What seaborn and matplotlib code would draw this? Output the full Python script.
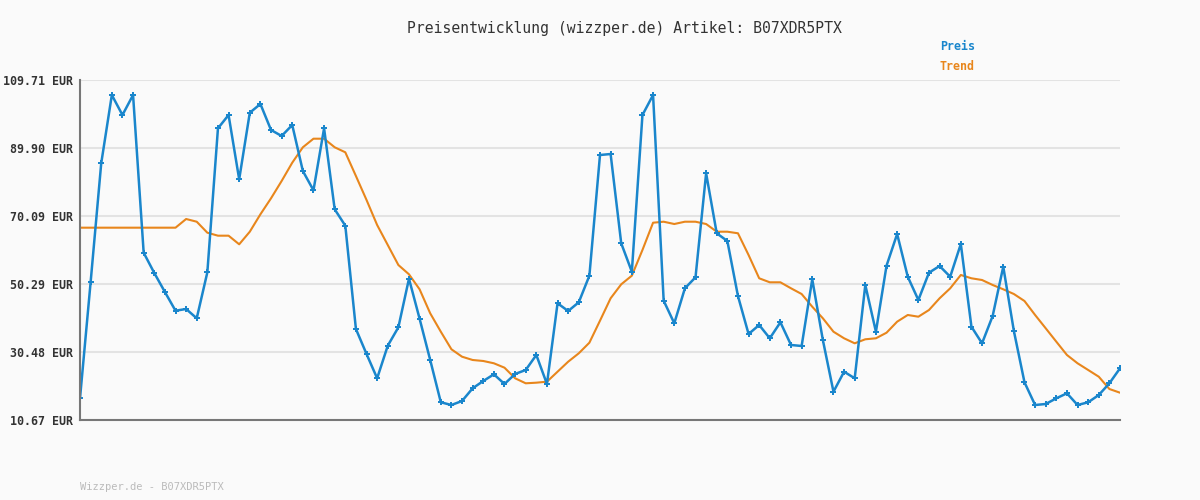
import matplotlib
matplotlib.use("Agg")
import matplotlib.pyplot as plt
import seaborn as sns
import pandas as pd

price = [16.99, 50.78, 85.45, 105.34, 99.51, 105.34, 59.40, 53.49, 47.96, 42.51,
         43.00, 40.30, 53.69, 95.64, 99.51, 80.78, 100.18, 102.72, 95.15, 93.40,
         96.60, 83.20, 77.58, 95.64, 72.05, 67.27, 37.18, 29.90, 22.82, 32.31,
         37.67, 51.83, 40.18, 28.15, 15.83, 15.04, 16.21, 19.91, 22.03, 23.98,
         21.16, 24.07, 25.24, 29.61, 21.16, 44.67, 42.42, 44.96, 52.71, 87.86,
         88.15, 62.14, 53.87, 99.51, 105.34, 45.42, 38.84, 49.03, 52.24, 82.53,
         65.06, 62.81, 46.79, 35.72, 38.34, 34.47, 39.13, 32.52, 32.23, 51.66,
         33.97, 18.91, 24.74, 22.82, 50.00, 36.39, 55.62, 64.85, 52.41, 45.63,
         53.58, 55.53, 52.41, 61.94, 37.85, 33.01, 40.97, 55.33, 36.60, 21.65,
         15.04, 15.33, 16.99, 18.45, 15.04, 15.83, 17.95, 21.36, 25.73]
trend = [66.69] * 10 + [
         69.22, 68.43, 65.23, 64.36, 64.36, 61.85, 65.52, 70.59, 75.25, 80.29,
         85.62, 90.11, 92.61, 92.61, 90.11, 88.65, 81.75, 74.76, 67.47, 61.65,
         55.82, 53.11, 48.74, 41.75, 36.39, 31.27, 29.11, 28.15, 27.86, 27.19,
         25.91, 22.82, 21.36, 21.54, 21.83, 24.74, 27.65, 30.10, 33.19, 39.60,
         46.12, 50.20, 52.71, 60.19, 68.14, 68.43, 67.76, 68.43, 68.43, 67.76,
         65.52, 65.52, 65.06, 58.73, 51.95, 50.78, 50.78, 49.03, 47.37, 43.67,
         40.30, 36.39, 34.47, 33.01, 34.18, 34.47, 36.10, 39.31, 41.26, 40.76,
         42.71, 46.12, 49.03, 52.91, 51.95, 51.45, 50.00, 48.74, 47.37, 45.33,
         41.26, 37.38, 33.48, 29.61, 27.19, 25.24, 23.28, 19.70, 18.62]
yticks = [10.67, 30.48, 50.29, 70.09, 89.90, 109.71]
title = "Preisentwicklung (wizzper.de) Artikel: B07XDR5PTX"
footer = "Wizzper.de - B07XDR5PTX"

df = pd.DataFrame({"i": range(len(price)), "price": price, "trend": trend})

sns.set_style("white")
plt.rcParams['font.family'] = ['DejaVu Sans Mono']
fig = plt.figure(figsize=(12, 5), dpi=100, facecolor="#fafafa")
ax = fig.add_axes([80/1200, 0.16, 1040/1200, 0.68])
ax.set_facecolor("#fafafa")

sns.lineplot(data=df, x="i", y="trend", ax=ax, color="#e8861c", linewidth=1.5)
sns.lineplot(data=df, x="i", y="price", ax=ax, color="#1a86cc", linewidth=1.8,
             marker="P", markersize=4, markeredgewidth=0)

ax.set_xlim(0, len(price) - 1)
ax.set_ylim(yticks[0], yticks[-1])
ax.set_yticks(yticks)
ax.set_yticklabels([f"{v:.2f} EUR" for v in yticks], fontsize=8.4, fontweight="bold", color="#333333")
ax.set_xticks([])
ax.set_xlabel("")
ax.set_ylabel("")
ax.tick_params(axis="y", length=4, color="#e3e3e3", pad=1)
ax.grid(axis="y", color="#e3e3e3", linewidth=1.5)
ax.set_axisbelow(True)
for s in ["top", "right"]:
    ax.spines[s].set_visible(False)
for s in ["left", "bottom"]:
    ax.spines[s].set_color("#777777")
    ax.spines[s].set_linewidth(1.5)

fig.text(624/1200, 1 - 28/500, title, ha="center", va="center", fontsize=10.6, color="#333333")
fig.text(940/1200, 1 - 47/500, "Preis", ha="left", va="center", fontsize=8.4, fontweight="bold", color="#1a86cc")
fig.text(940/1200, 1 - 67/500, "Trend", ha="left", va="center", fontsize=8.4, fontweight="bold", color="#e8861c")
fig.text(80/1200, 1 - 487/500, footer, ha="left", va="center", fontsize=7.5, color="#bbbbbb")

fig.savefig("out.png", dpi=100, facecolor="#fafafa")
